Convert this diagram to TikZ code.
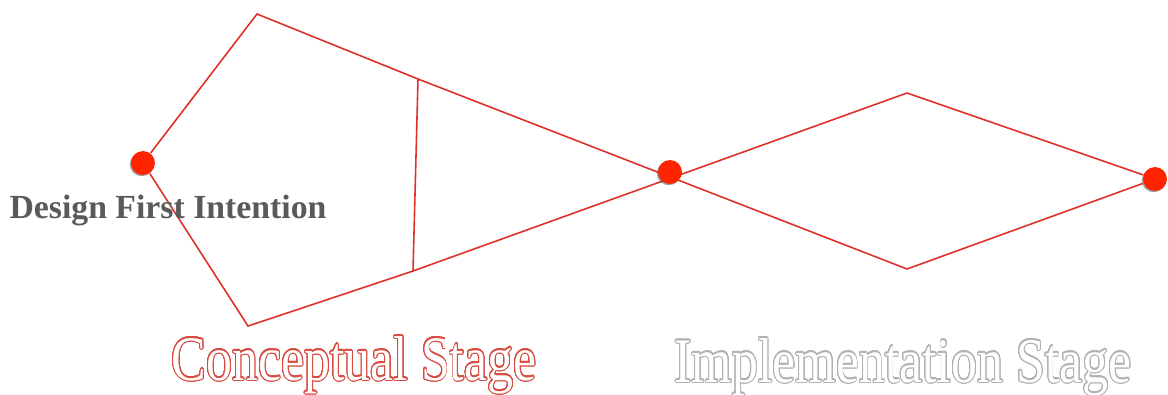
\documentclass[tikz,border=0pt]{standalone}
\usepackage{fontspec}
\setmainfont{Liberation Serif}
\usepackage{graphicx}
\usepackage{contour}
\usetikzlibrary{shadows}
\definecolor{linered}{RGB}{222,48,40}
\definecolor{dotred}{RGB}{255,36,0}
\definecolor{capred}{RGB}{215,75,65}
\definecolor{capgray}{RGB}{178,178,178}
\definecolor{introgray}{RGB}{90,90,90}
\contournumber{24}
\contourlength{0.3pt}

\begin{document}
\begin{tikzpicture}[x=0.01cm, y=-0.01cm,
    edge/.style={draw=linered, line width=0.45pt},
    stagedot/.style={circle, fill=dotred, inner sep=0pt, minimum size=6.8pt,
        drop shadow={shadow xshift=-0.35pt, shadow yshift=-0.35pt, opacity=0.55, fill=black!70}},
    caption/.style={inner sep=0pt, anchor=base, font=\fontsize{18}{20}\selectfont}]
    \useasboundingbox (0,0) rectangle (1168,394);
    % stage points
    \node[stagedot] (intent) at (143,163) {};
    \coordinate (ctop) at (257,14);
    \coordinate (cbot) at (248,326);
    \coordinate (vtop) at (418,79);
    \coordinate (vbot) at (413,271);
    \coordinate (itop) at (907,93);
    \coordinate (ibot) at (907,269);
    \node[stagedot] (goal) at (1155,179) {};
    % outline of the two stages
    \draw[edge] (intent) -- (ctop) -- (vtop) -- (ibot) -- (goal);
    \draw[edge] (intent) -- (cbot) -- (vbot) -- (itop) -- (goal);
    \draw[edge] (vtop) -- (vbot);
    \node[stagedot] (mid) at (670,172) {};
    % labels
    \node[inner sep=0pt, font=\fontsize{9.6}{11}\selectfont\bfseries, text=introgray] (intentlbl) at (168,211) {Design First Intention};
    \node[caption] (concept) at (354,380) {\scalebox{0.82}[1]{\contour{capred}{\textcolor{white}{Conceptual Stage}}}};
    \node[caption] (impl) at (903,382) {\scalebox{0.82}[1]{\contour{capgray}{\textcolor{white}{Implementation Stage}}}};
\end{tikzpicture}
\end{document}
